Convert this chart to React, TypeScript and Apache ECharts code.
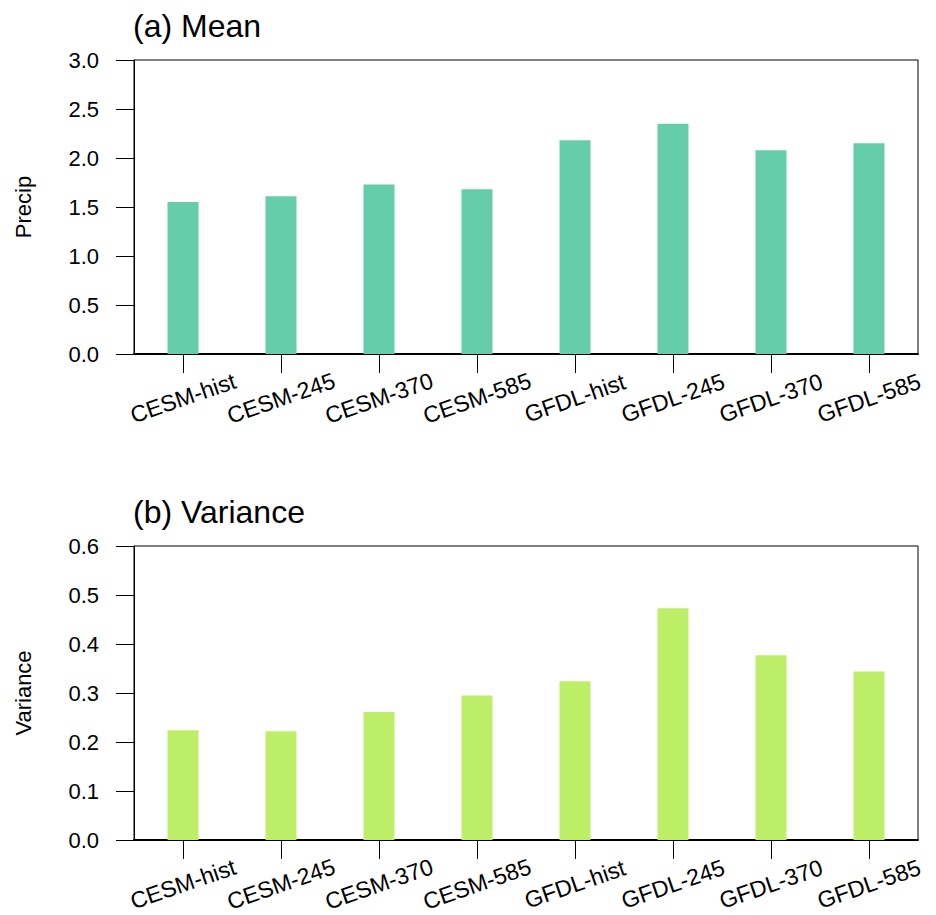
import React, { useEffect, useRef } from "react";
import * as echarts from "echarts";

const categories = ["CESM-hist", "CESM-245", "CESM-370", "CESM-585", "GFDL-hist", "GFDL-245", "GFDL-370", "GFDL-585"];
const meanValues = [1.55, 1.61, 1.73, 1.68, 2.18, 2.35, 2.08, 2.15];
const varianceValues = [0.224, 0.222, 0.261, 0.295, 0.324, 0.473, 0.377, 0.344];
const meanTicks = { min: 0, max: 3, interval: 0.5 };
const varTicks = { min: 0, max: 0.6, interval: 0.1 };

const FONT = "'Liberation Sans', Arial, Helvetica, sans-serif";

export default function App() {
  const ref = useRef<HTMLDivElement>(null);
  useEffect(() => {
    if (!ref.current) return;
    const chart = echarts.init(ref.current, null, { renderer: "svg" });
    const grids = [
      { left: 134, top: 60, width: 784, height: 294 },
      { left: 134, top: 546, width: 784, height: 294 },
    ];
    const xAxis = grids.map((_, i) => ({
      type: "category",
      gridIndex: i,
      data: categories,
      boundaryGap: true,
      axisLine: { show: true, lineStyle: { color: "#000", width: 2 } },
      axisTick: { show: true, alignWithLabel: true, length: 19, lineStyle: { color: "#000", width: 1 } },
      axisLabel: {
        rotate: 19,
        align: "center",
        verticalAlign: "middle",
        margin: 44,
        fontSize: 23,
        color: "#000",
        fontFamily: FONT,
        interval: 0,
      },
      splitLine: { show: false },
    }));
    const yAxis = [
      { t: meanTicks, name: "Precip" },
      { t: varTicks, name: "Variance" },
    ].map((a, i) => ({
      type: "value",
      gridIndex: i,
      min: a.t.min,
      max: a.t.max,
      interval: a.t.interval,
      name: a.name,
      nameLocation: "middle",
      nameGap: 100,
      nameRotate: 90,
      nameTextStyle: { fontSize: 22, color: "#000", fontFamily: FONT },
      axisLine: { show: true, lineStyle: { color: "#000", width: 1 } },
      axisTick: { show: true, length: 18, lineStyle: { color: "#000", width: 1 } },
      axisLabel: {
        margin: 35,
        fontSize: 22,
        color: "#000",
        fontFamily: FONT,
        formatter: (v: number) => v.toFixed(1),
      },
      splitLine: { show: false },
    }));
    const titleStyle = { fontSize: 32, fontWeight: "normal", color: "#000", fontFamily: FONT };
    chart.setOption({
      animation: false,
      backgroundColor: "#fff",
      title: [
        { text: "(a) Mean", left: 133, top: 10, padding: 0, textStyle: titleStyle },
        { text: "(b) Variance", left: 133, top: 496, padding: 0, textStyle: titleStyle },
      ],
      grid: grids.map((g) => ({ ...g, show: true, borderColor: "#000", borderWidth: 1, backgroundColor: "transparent" })),
      xAxis,
      yAxis,
      series: [
        { type: "bar", xAxisIndex: 0, yAxisIndex: 0, data: meanValues, barWidth: 31, itemStyle: { color: "#66CDAA" } },
        { type: "bar", xAxisIndex: 1, yAxisIndex: 1, data: varianceValues, barWidth: 31, itemStyle: { color: "#BCEE68" } },
      ],
    });
    return () => chart.dispose();
  }, []);
  return <div ref={ref} style={{ position: "absolute", left: 0, top: 0, width: 936, height: 915 }} />;
}
